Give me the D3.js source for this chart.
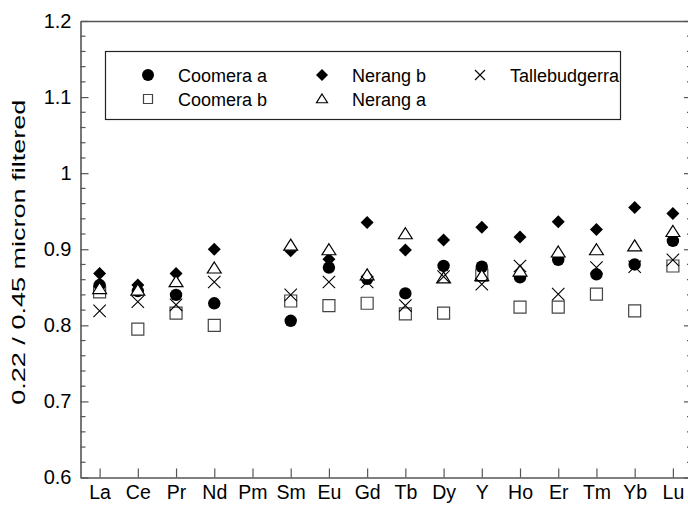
<!DOCTYPE html>
<html>
<head>
<meta charset="utf-8">
<script src="https://cdn.jsdelivr.net/npm/d3@7"></script>
<style>
  body { margin: 0; background: #fff; }
  svg { display: block; font-family: "Liberation Sans", Arial, sans-serif; }
</style>
</head>
<body>
<div id="chart"></div>
<script>
// rare earth elements on the x axis
var elements = ["La", "Ce", "Pr", "Nd", "Pm", "Sm", "Eu", "Gd", "Tb", "Dy", "Y", "Ho", "Er", "Tm", "Yb", "Lu"];

// ratios, null = no value (Pm)
var coomeraA = [0.853, 0.845, 0.840, 0.829, null, 0.806, 0.876, 0.861, 0.842, 0.878, 0.877, 0.863, 0.886, 0.867, 0.880, 0.911];
var coomeraB = [0.844, 0.795, 0.816, 0.800, null, 0.832, 0.826, 0.829, 0.815, 0.816, 0.866, 0.824, 0.824, 0.841, 0.819, 0.878];
var nerangB  = [0.868, 0.853, 0.868, 0.900, null, 0.898, 0.887, 0.935, 0.899, 0.912, 0.929, 0.916, 0.936, 0.926, 0.955, 0.947];
var nerangA  = [0.848, 0.846, 0.857, 0.875, null, 0.905, 0.899, 0.866, 0.920, 0.862, 0.865, 0.871, 0.896, 0.899, 0.904, 0.923];
var talle    = [0.819, 0.831, 0.827, 0.857, null, 0.840, 0.857, 0.857, 0.826, 0.864, 0.854, 0.878, 0.841, 0.876, 0.877, 0.886];

var yTicks = [0.6, 0.7, 0.8, 0.9, 1, 1.1, 1.2];

// drawing order matters for overlaps
var series = [
    { name: "Coomera b", shape: "square", values: coomeraB },
    { name: "Nerang b", shape: "diamond", values: nerangB },
    { name: "Coomera a", shape: "circle", values: coomeraA },
    { name: "Nerang a", shape: "triangle", values: nerangA },
    { name: "Tallebudgerra", shape: "cross", values: talle }
];

var legendRows = [
    ["Coomera a", "Nerang b", "Tallebudgerra"],
    ["Coomera b", "Nerang a"]
];

function shapePath(shape, r) {
    switch(shape) {
        case "circle":
            return d3.symbol().type(d3.symbolCircle).size(Math.PI * r * r)();
        case "square":
            return "M" + (-r) + "," + (-r) + "H" + r + "V" + r + "H" + (-r) + "Z";
        case "diamond":
            return "M0," + (-r) + "L" + r + ",0L0," + r + "L" + (-r) + ",0Z";
        case "triangle":
            return "M0," + (-r) + "L" + (r * 1.1) + "," + (r * 0.75) + "L" + (-r * 1.1) + "," + (r * 0.75) + "Z";
        case "cross":
            return "M" + (-r) + "," + (-r) + "L" + r + "," + r + "M" + r + "," + (-r) + "L" + (-r) + "," + r;
    }
}

function styleShape(sel, shape) {
    if (shape == "circle" || shape == "diamond") {
        sel.attr("fill", "#000").attr("stroke", "none");
    } else if (shape == "cross") {
        sel.attr("fill", "none").attr("stroke", "#000").attr("stroke-width", 1.1);
    } else {
        sel.attr("fill", "#fff").attr("stroke", shape == "square" ? "#444" : "#000").attr("stroke-width", 1.2);
    }
}

function drawChart() {
    var width = 688, height = 505;
    var svg = d3.select("#chart").append("svg")
        .attr("width", width)
        .attr("height", height);

    var mLeft = 80.5, mRight = 692, mTop = 21, mBottom = 477.5;

    var x = d3.scaleLinear().domain([0.5, 16.5]).range([mLeft, mRight]);
    var y = d3.scaleLinear().domain([0.6, 1.2]).range([mBottom, mTop]);

    // minor ticks every 0.02, majors every 0.1
    var minor = d3.range(0, 31).map(function(i) { return 0.6 + i * 0.02; })
        .filter(function(v) { return Math.abs(Math.round(v * 10) - v * 10) > 0.01; });

    var axisColor = "#555";

    var gl = svg.append("g").attr("transform", "translate(" + mLeft + ",0)")
        .call(d3.axisLeft(y).tickValues(yTicks).tickSize(-8).tickSizeOuter(0).tickPadding(9)
            .tickFormat(function(d) { return String(+d.toFixed(1)); }));
    gl.selectAll(".tick text").attr("font-size", 20).attr("fill", "#000")
        .attr("font-family", "Liberation Sans, Arial, sans-serif");
    gl.append("g").attr("class", "minor").selectAll("line").data(minor).enter().append("line")
        .attr("x1", 0).attr("x2", 5)
        .attr("y1", function(d) { return y(d); }).attr("y2", function(d) { return y(d); });

    var gr = svg.append("g").attr("transform", "translate(" + mRight + ",0)")
        .call(d3.axisRight(y).tickValues(yTicks).tickSize(-8).tickSizeOuter(0).tickFormat(""));
    gr.append("g").attr("class", "minor").selectAll("line").data(minor).enter().append("line")
        .attr("x1", 0).attr("x2", -5)
        .attr("y1", function(d) { return y(d); }).attr("y2", function(d) { return y(d); });

    var gb = svg.append("g").attr("transform", "translate(0," + mBottom + ")")
        .call(d3.axisBottom(x).tickValues(d3.range(1, 17)).tickSize(-9).tickSizeOuter(0).tickPadding(8)
            .tickFormat(function(d) { return elements[d - 1]; }));
    gb.selectAll(".tick text").attr("font-size", 19.5).attr("fill", "#000")
        .attr("font-family", "Liberation Sans, Arial, sans-serif");

    svg.append("g").attr("transform", "translate(0," + mTop + ")")
        .call(d3.axisTop(x).tickValues([]).tickSizeOuter(0));

    svg.selectAll(".domain").attr("stroke", axisColor).attr("stroke-width", 1.6);
    svg.selectAll(".tick line").attr("stroke", axisColor).attr("stroke-width", 1.2);
    svg.selectAll(".minor line").attr("stroke", axisColor).attr("stroke-width", 1.2);

    // y axis title
    svg.append("text")
        .attr("transform", "translate(25," + ((mTop + mBottom) / 2 + 3) + ") rotate(-90)")
        .attr("text-anchor", "middle")
        .attr("font-size", 18)
        .attr("textLength", 305)
        .attr("lengthAdjust", "spacingAndGlyphs")
        .text("0.22 / 0.45 micron filtered");

    // legend
    var lg = svg.append("g");
    lg.append("rect")
        .attr("x", 105.5).attr("y", 51.5)
        .attr("width", 515).attr("height", 68)
        .attr("fill", "#fff").attr("stroke", "#222").attr("stroke-width", 1.2);

    var colX = [148, 322, 480];
    var rowY = [75, 99];
    var legendR = { circle: 6, square: 4.5, diamond: 6, triangle: 5, cross: 5 };
    legendRows.forEach(function(row, ri) {
        row.forEach(function(name, ci) {
            var s = series.filter(function(d) { return d.name == name; })[0];
            var item = lg.append("g").attr("transform", "translate(" + colX[ci] + "," + rowY[ri] + ")");
            item.append("path").attr("d", shapePath(s.shape, legendR[s.shape])).call(styleShape, s.shape);
            item.append("text").attr("x", 30).attr("y", 6.5)
                .attr("font-size", 18)
                .text(name);
        });
    });

    // data points
    var sizes = { circle: 6.2, square: 6, diamond: 6.5, triangle: 6.3, cross: 6.2 };
    series.forEach(function(s) {
        var pts = s.values.map(function(v, i) { return { i: i + 1, v: v }; })
            .filter(function(d) { return d.v !== null; });
        svg.append("g").selectAll("path").data(pts).enter().append("path")
            .attr("transform", function(d) { return "translate(" + x(d.i) + "," + y(d.v) + ")"; })
            .attr("d", shapePath(s.shape, sizes[s.shape]))
            .call(styleShape, s.shape);
    });
}

drawChart();
</script>
</body>
</html>
